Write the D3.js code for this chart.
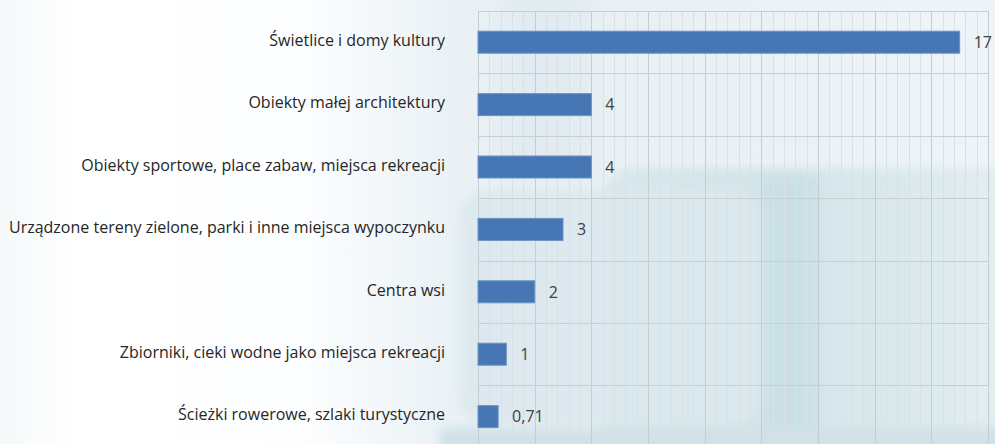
<!DOCTYPE html>
<html><head><meta charset="utf-8">
<script src="https://cdn.jsdelivr.net/npm/d3@7"></script>
<style>
html,body{margin:0;padding:0;background:#fff;}
svg{display:block;}
text{font-family:"Open Sans",sans-serif;}
</style></head>
<body>
<svg id="chart" width="995" height="444"></svg>
<script>
const categories = [
  "Świetlice i domy kultury",
  "Obiekty małej architektury",
  "Obiekty sportowe, place zabaw, miejsca rekreacji",
  "Urządzone tereny zielone, parki i inne miejsca wypoczynku",
  "Centra wsi",
  "Zbiorniki, cieki wodne jako miejsca rekreacji",
  "Ścieżki rowerowe, szlaki turystyczne"
];
const values = [17, 4, 4, 3, 2, 1, 0.71];
const valueLabels = ["17", "4", "4", "3", "2", "1", "0,71"];
const xDomain = [0, 18];
const majorStep = 2;
const minorStep = 0.4;

const W = 995, H = 444;
const svg = d3.select("#chart");
const defs = svg.append("defs");

// ---- decorative background ----
const g0 = defs.append("linearGradient").attr("id","bgH").attr("x1",0).attr("x2",1).attr("y1",0).attr("y2",0);
[[0,"#f5f9fa"],[0.08,"#ffffff"],[0.30,"#fdfeff"],[0.46,"#e9f1f5"],[0.6,"#e8f0f4"],[1,"#eef4f7"]]
  .forEach(([o,c])=>g0.append("stop").attr("offset",o).attr("stop-color",c));
const g1 = defs.append("linearGradient").attr("id","lowR").attr("x1",0).attr("x2",1).attr("y1",0).attr("y2",0);
[[0,"#d8e7ec"],[0.35,"#d3e4e9"],[0.7,"#dbe9ed"],[1,"#e6eff2"]]
  .forEach(([o,c])=>g1.append("stop").attr("offset",o).attr("stop-color",c));
const blur = defs.append("filter").attr("id","soft").attr("x","-20%").attr("y","-20%").attr("width","140%").attr("height","140%");
blur.append("feGaussianBlur").attr("stdDeviation",5);
const blur2 = defs.append("filter").attr("id","soft2").attr("x","-20%").attr("y","-20%").attr("width","140%").attr("height","140%");
blur2.append("feGaussianBlur").attr("stdDeviation",10);

const bg = svg.append("g");
bg.append("rect").attr("width",W).attr("height",H).attr("fill","url(#bgH)");
bg.append("rect").attr("x",500).attr("y",-20).attr("width",90).attr("height",200).attr("fill","#dfeaf0").attr("opacity",0.7).attr("filter","url(#soft2)");
bg.append("rect").attr("x",600).attr("y",168).attr("width",440).attr("height",320).attr("rx",40)
  .attr("fill","url(#lowR)").attr("filter","url(#soft)");
bg.append("rect").attr("x",763).attr("y",175).attr("width",56).attr("height",300)
  .attr("fill","#c8dee4").attr("opacity",0.7).attr("filter","url(#soft)");
bg.append("rect").attr("x",460).attr("y",190).attr("width",300).attr("height",236).attr("rx",30)
  .attr("fill","#dce9ee").attr("opacity",0.9).attr("filter","url(#soft)");
bg.append("rect").attr("x",440).attr("y",428).attr("width",600).attr("height",40)
  .attr("fill","#d0e2e7").attr("filter","url(#soft)");

// ---- scales ----
const plotLeft = 478, plotRight = 988, plotTop = 11, step = 62.4;
const x = d3.scaleLinear().domain(xDomain).range([plotLeft, plotRight]);
const y = d3.scaleBand().domain(categories).range([plotTop, plotTop + step*categories.length]).padding(0);
const barH = 22;

// ---- gridlines ----
const grid = svg.append("g");
const minorTicks = d3.range(xDomain[0], xDomain[1] + 1e-9, minorStep).filter(v => Math.abs(v/majorStep - Math.round(v/majorStep)) > 1e-6);
grid.selectAll("line.minor").data(minorTicks).join("line")
  .attr("x1", d=>Math.round(x(d))+0.5).attr("x2", d=>Math.round(x(d))+0.5)
  .attr("y1", plotTop).attr("y2", H)
  .attr("stroke","#d9e1e5").attr("stroke-width",1);
const majorTicks = x.ticks((xDomain[1]-xDomain[0])/majorStep);
grid.selectAll("line.major").data(majorTicks).join("line")
  .attr("x1", d=>Math.round(x(d))+0.5).attr("x2", d=>Math.round(x(d))+0.5)
  .attr("y1", plotTop).attr("y2", H)
  .attr("stroke","#c4cdd2").attr("stroke-width",1);
const hLines = categories.map(c => y(c)).concat([y.range()[1]]);
grid.selectAll("line.h").data(hLines).join("line")
  .attr("x1", plotLeft).attr("x2", plotRight+1)
  .attr("y1", d=>Math.round(d)+0.5).attr("y2", d=>Math.round(d)+0.5)
  .attr("stroke","#c6cfd3").attr("stroke-width",1);

// ---- bars ----
svg.append("g").selectAll("rect").data(categories).join("rect")
  .attr("x", x(0)).attr("y", (c)=>y(c) + (y.step()-barH)/2)
  .attr("width", (c,i)=>x(values[i]) - x(0)).attr("height", barH)
  .attr("fill","#4676b3").attr("stroke","#6a93c6").attr("stroke-width",1);

// ---- value labels ----
svg.append("g").selectAll("text").data(categories).join("text")
  .attr("x", (c,i)=>x(values[i]) + 14)
  .attr("y", c=>y(c) + y.step()/2)
  .attr("dy","0.36em")
  .attr("font-size",16).attr("fill","#404040")
  .text((c,i)=>valueLabels[i]);

// ---- category labels ----
svg.append("g").selectAll("text").data(categories).join("text")
  .attr("x", 445)
  .attr("y", c=>y(c) + y.step()/2 - 2)
  .attr("dy","0.36em")
  .attr("text-anchor","end")
  .attr("font-size",16).attr("fill","#262626")
  .text(c=>c);
</script>
</body></html>
